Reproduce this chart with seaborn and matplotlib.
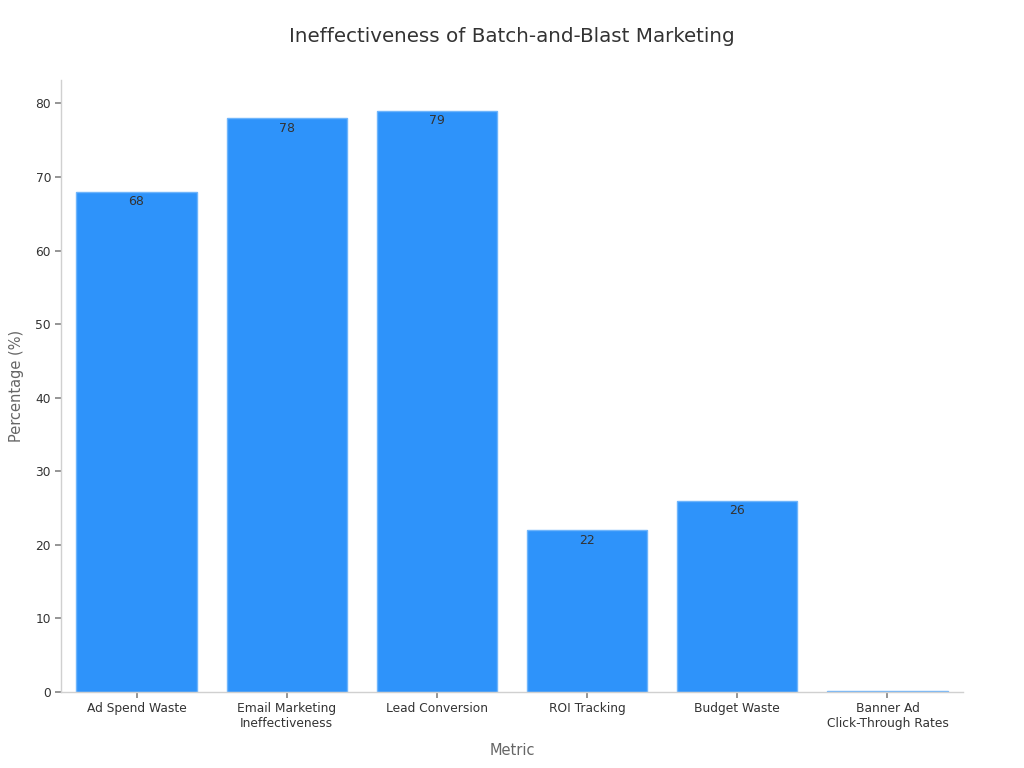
import pandas as pd
import matplotlib
matplotlib.use("Agg")
import matplotlib.pyplot as plt
import seaborn as sns

# Chart data
metrics = [
    "Ad Spend Waste", "Email Marketing\nIneffectiveness", "Lead Conversion",
    "ROI Tracking", "Budget Waste", "Banner Ad\nClick-Through Rates"
]
percentages = [68, 78, 79, 22, 26, 0.1]

df = pd.DataFrame({"Metric": metrics, "Percentage": percentages})

sns.set_theme(style="white")
plt.rcParams['font.family'] = ['DejaVu Sans']

fig, ax = plt.subplots(figsize=(10.24, 7.68), dpi=100)
fig.subplots_adjust(left=0.06, right=0.94, bottom=0.099, top=0.896)

sns.barplot(data=df, x="Metric", y="Percentage", color="#2E93FA",
            saturation=1, width=0.8, edgecolor="#6FB5FB", linewidth=1, ax=ax)

# Value labels just inside the top of each bar
for bar, val in zip(ax.patches, percentages):
    if val < 1:
        continue
    ax.text(bar.get_x() + bar.get_width() / 2, bar.get_height() - 0.5, f"{val:g}",
            ha="center", va="top", fontsize=9, color="#333333")

ax.set_xlim(-0.5, 5.5)
ax.set_ylim(0, 83.2)
ax.set_yticks(range(0, 81, 10))

ax.set_title("Ineffectiveness of Batch-and-Blast Marketing", fontsize=14.3,
             color="#333333", pad=27)
ax.set_xlabel("Metric", fontsize=10.5, color="#666666", labelpad=9)
ax.set_ylabel("Percentage (%)", fontsize=10.5, color="#666666", labelpad=8)

ax.tick_params(axis="both", labelsize=8.8, colors="#333333", length=4,
               bottom=True, left=True)
ax.tick_params(axis="both", color="#888888")
for side in ["top", "right"]:
    ax.spines[side].set_visible(False)
for side in ["left", "bottom"]:
    ax.spines[side].set_color("#D0D0D0")
    ax.spines[side].set_linewidth(1)

fig.savefig("out.png", dpi=100)
